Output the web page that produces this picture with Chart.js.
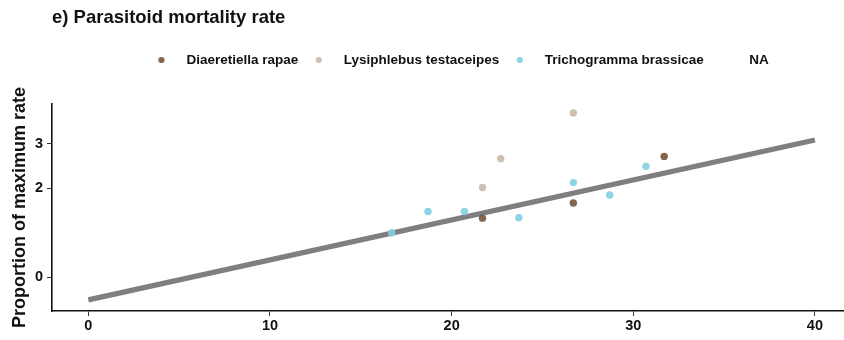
<!DOCTYPE html>
<html lang="en">
<head>
<meta charset="UTF-8">
<title>Parasitoid mortality rate</title>
<script src="https://cdn.jsdelivr.net/npm/chart.js@4"></script>
<style>
  body { margin: 0; background: #fff; }
  #chart { display: block; }
</style>
</head>
<body>
<canvas id="chart" width="844" height="340"></canvas>
<script>
// legend entries
const speciesNames = ['Diaeretiella rapae', 'Lysiphlebus testaceipes', 'Trichogramma brassicae', 'NA'];

// temperature (x) and proportion of maximum rate (y) per species
const diaeretiellaTemp = [21.7, 26.7, 31.7];
const diaeretiellaRate = [1.33, 1.67, 2.72];
const lysiphlebusTemp = [21.7, 22.7, 26.7];
const lysiphlebusRate = [2.02, 2.67, 3.70];
const trichogrammaTemp = [16.7, 18.7, 20.7, 23.7, 26.7, 28.7, 30.7];
const trichogrammaRate = [1.00, 1.48, 1.48, 1.34, 2.13, 1.85, 2.50];

// fitted line end points
const fitTemp = [0, 40];
const fitRate = [-0.51, 3.09];

// axis ticks
const xTicks = [0, 10, 20, 30, 40];
const yTicks = [0, 2, 3];

const colors = ['rgba(125,93,69,0.95)', 'rgba(204,189,174,0.95)', 'rgba(131,207,226,0.9)', 'rgba(0,0,0,0)'];
const FONT = "'Liberation Sans', Arial, sans-serif";

function pts(xs, ys) {
  return xs.map((x, i) => ({ x: x, y: ys[i] }));
}

function dotImage(color) {
  const c = document.createElement('canvas');
  c.width = 8; c.height = 8;
  const g = c.getContext('2d');
  g.fillStyle = color;
  g.beginPath();
  g.arc(4, 4, 3.1, 0, Math.PI * 2);
  g.fill();
  return c;
}

const seriesData = [
  pts(diaeretiellaTemp, diaeretiellaRate),
  pts(lysiphlebusTemp, lysiphlebusRate),
  pts(trichogrammaTemp, trichogrammaRate),
  []
];

const datasets = speciesNames.map((name, i) => ({
  type: 'scatter',
  label: name,
  data: seriesData[i],
  backgroundColor: colors[i],
  borderWidth: 0,
  pointRadius: 3.7,
  pointHoverRadius: 3.7,
  order: 0
}));

datasets.push({
  type: 'line',
  label: 'fit',
  data: pts(fitTemp, fitRate),
  borderColor: '#7f7f7f',
  borderWidth: 5.2,
  pointRadius: 0,
  fill: false,
  order: 10
});

const shiftLegend = {
  id: 'shiftLegend',
  afterLayout(chart) {
    chart.legend.left += 8;
    chart.legend.right += 8;
  }
};

new Chart(document.getElementById('chart'), {
  data: { datasets: datasets },
  plugins: [shiftLegend],
  options: {
    responsive: false,
    devicePixelRatio: 1,
    animation: false,
    events: [],
    layout: { autoPadding: false, padding: { left: 5, right: 0, top: 0, bottom: 0 } },
    plugins: {
      tooltip: { enabled: false },
      title: {
        display: true,
        text: 'e) Parasitoid mortality rate',
        align: 'start',
        fullSize: false,
        color: '#111',
        font: { family: FONT, size: 18.5, weight: 'bold' },
        padding: { top: 6.9, bottom: 21.9 }
      },
      subtitle: {
        display: true,
        text: '',
        fullSize: false,
        weight: 500,
        font: { size: 1, lineHeight: 1 },
        padding: { top: 0, bottom: 26.25 }
      },
      legend: {
        display: true,
        position: 'top',
        fullSize: false,
        labels: {
          usePointStyle: true,
          pointStyleWidth: 36.5,
          padding: 2.25,
          color: '#111',
          font: { family: FONT, size: 13.5, weight: 'bold' },
          filter: item => item.text !== 'fit',
          generateLabels(chart) {
            const items = Chart.defaults.plugins.legend.labels.generateLabels(chart);
            items.forEach(it => {
              it.pointStyle = dotImage(colors[it.datasetIndex] || 'rgba(0,0,0,0)');
              it.lineWidth = 0;
            });
            return items;
          }
        }
      }
    },
    scales: {
      x: {
        type: 'linear',
        min: -2,
        max: 41.6,
        afterBuildTicks: axis => { axis.ticks = xTicks.map(v => ({ value: v })); },
        afterFit: scale => { scale.height = 29; scale.paddingLeft = 0; scale.paddingRight = 0; },
        grid: { drawOnChartArea: false, drawTicks: true, tickLength: 5, color: '#333', lineWidth: 1 },
        border: { display: true, color: '#111', width: 1.6 },
        ticks: { color: '#111', padding: 1, font: { family: FONT, size: 14.5, weight: 'bold' } }
      },
      y: {
        type: 'linear',
        min: -0.76,
        max: 3.9,
        afterBuildTicks: axis => { axis.ticks = yTicks.map(v => ({ value: v })); },
        afterFit: scale => { scale.width = 47; },
        grid: { drawOnChartArea: false, drawTicks: true, tickLength: 5, color: '#333', lineWidth: 1 },
        border: { display: true, color: '#111', width: 1.6 },
        ticks: { color: '#111', padding: 4, font: { family: FONT, size: 14.5, weight: 'bold' } },
        title: {
          display: true,
          text: 'Proportion of maximum rate',
          color: '#111',
          padding: { top: 4, bottom: 4 },
          font: { family: FONT, size: 18, weight: 'bold' }
        }
      }
    }
  }
});
</script>
</body>
</html>
